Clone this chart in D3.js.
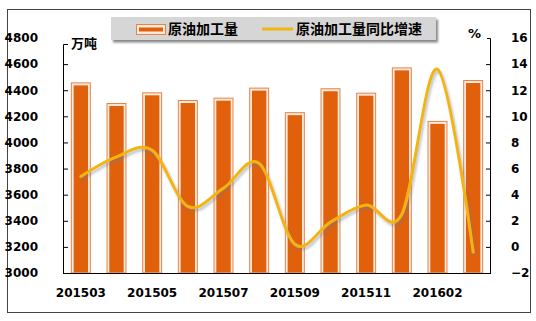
<!DOCTYPE html>
<html><head><meta charset="utf-8">
<script src="https://cdn.jsdelivr.net/npm/d3@7"></script>
<style>
html,body{margin:0;padding:0;background:#fff;}
svg{display:block;}
text{font-family:"DejaVu Sans",Verdana,sans-serif;font-weight:bold;fill:#000;}
.cjk{font-family:"Noto Sans CJK SC","Noto Sans",sans-serif;font-weight:bold;}
</style></head>
<body>
<script>
const categories = ["201503","201504","201505","201506","201507","201508","201509","201510","201511","201512","201602","201603"];
const xTickLabels = ["201503","201505","201507","201509","201511","201602"];
const output = [4460, 4302, 4384, 4325, 4343, 4420, 4232, 4415, 4381, 4575, 4165, 4478];
const growth = [5.4, 6.9, 7.4, 3.1, 4.5, 6.4, 0.2, 1.9, 3.2, 2.5, 13.6, -0.4];
const leftTicks = [3000,3200,3400,3600,3800,4000,4200,4400,4600,4800];
const rightTicks = [-2,0,2,4,6,8,10,12,14,16];
const seriesNames = ["原油加工量","原油加工量同比增速"];
const leftUnit = "万吨", rightUnit = "%";

const W = 536, H = 321;
const svg = d3.select("body").append("svg").attr("width", W).attr("height", H);
const defs = svg.append("defs");
const f = defs.append("filter").attr("id","lshadow").attr("x","-10%").attr("y","-10%").attr("width","130%").attr("height","140%");
f.append("feDropShadow").attr("dx",1.5).attr("dy",2.5).attr("stdDeviation",1.2).attr("flood-color","#6a7a90").attr("flood-opacity",0.45);
const f2 = defs.append("filter").attr("id","bshadow").attr("x","-5%").attr("y","-20%").attr("width","110%").attr("height","160%");
f2.append("feDropShadow").attr("dx",2).attr("dy",2.5).attr("stdDeviation",1).attr("flood-color","#555").attr("flood-opacity",0.7);

// outer frame
svg.append("rect").attr("x",7.5).attr("y",9.5).attr("width",523).attr("height",303)
  .attr("fill","#fff").attr("stroke","#444").attr("stroke-width",1);

const x0 = 63, x1 = 491, yB = 273, yT = 38;
const x = d3.scaleBand().domain(categories).range([x0, x1]).paddingInner(0.44).paddingOuter(0.22);
const yL = d3.scaleLinear().domain([3000, 4800]).range([yB, yT]);
const yR = d3.scaleLinear().domain([-2, 16]).range([yB, yT]);

// bars
const bars = svg.append("g");
categories.forEach((c, i) => {
  const bx = x(c), bw = x.bandwidth(), top = yL(output[i]);
  bars.append("rect").attr("x", bx+0.5).attr("y", top+0.5).attr("width", bw-1).attr("height", yB-top-0.5)
    .attr("fill","#FDEADB").attr("stroke","#E6834A").attr("stroke-width",1);
  bars.append("rect").attr("x", bx+2.8).attr("y", top+3).attr("width", bw-5.6).attr("height", yB-top-3.5)
    .attr("fill","#E0600C");
});

// line
const line = d3.line().x((d,i)=>x(categories[i])+x.bandwidth()/2).y(d=>yR(d)).curve(d3.curveCardinal.tension(0));
svg.append("path").datum(growth).attr("d", line).attr("fill","none")
  .attr("stroke","#F3B510").attr("stroke-width",3).attr("stroke-linecap","round").attr("filter","url(#lshadow)");

// left axis
const gL = svg.append("g").attr("transform",`translate(${x0},0)`);
gL.call(d3.axisLeft(yL).tickValues(leftTicks).tickSize(-5).tickPadding(25).tickFormat(d3.format("d")));
gL.select(".domain").remove();
gL.selectAll(".tick").filter(d=>d===4800||d===3000).select("line").remove();
gL.selectAll("text").attr("font-size",12).attr("font-family","DejaVu Sans").attr("font-weight","bold").attr("fill","#000");
gL.selectAll("line").attr("stroke","#000");
gL.append("path").attr("d",`M5,${yL(4800)+6.5}H0.5V${yB}`).attr("fill","none").attr("stroke","#000");

// right axis
const gR = svg.append("g").attr("transform",`translate(${x1},0)`);
gR.call(d3.axisRight(yR).tickValues(rightTicks).tickSize(-5).tickPadding(20).tickFormat(d3.format("d")));
gR.select(".domain").remove();
gR.selectAll(".tick").filter(d=>d===16||d===-2).select("line").remove();
gR.selectAll("text").attr("font-size",12).attr("font-family","DejaVu Sans").attr("font-weight","bold").attr("fill","#000");
gR.selectAll("line").attr("stroke","#000");
gR.append("path").attr("d",`M-4,${yR(16)+0.5}H-0.5V${yB}`).attr("fill","none").attr("stroke","#000");

// bottom axis
const gB = svg.append("g").attr("transform",`translate(0,${yB})`);
gB.call(d3.axisBottom(x).tickValues(xTickLabels).tickSize(0).tickPadding(15));
gB.select(".domain").attr("d",`M${x0},0.5H${x1}`).attr("stroke","#000").attr("stroke-width",1.2);
gB.selectAll("text").attr("font-size",12).attr("font-family","DejaVu Sans").attr("font-weight","bold").attr("fill","#000");

// unit labels
svg.append("text").attr("class","cjk").attr("x",71).attr("y",48).attr("font-size",13).text(leftUnit);
svg.append("text").attr("x",468).attr("y",38).attr("font-size",13).text(rightUnit);

// legend
const lg = svg.append("g");
lg.append("rect").attr("x",111).attr("y",17).attr("width",325).attr("height",23).attr("fill","#D6D6D6").attr("filter","url(#bshadow)");
lg.append("rect").attr("x",136.5).attr("y",24.5).attr("width",29).attr("height",10).attr("fill","#FDEADB").attr("stroke","#E6834A");
lg.append("rect").attr("x",139).attr("y",27.5).attr("width",24).attr("height",4).attr("fill","#E0600C");
lg.append("text").attr("class","cjk").attr("x",168).attr("y",34).attr("font-size",14).text(seriesNames[0]);
lg.append("line").attr("x1",262).attr("x2",293).attr("y1",29).attr("y2",29).attr("stroke","#F3B510").attr("stroke-width",3);
lg.append("text").attr("class","cjk").attr("x",296).attr("y",34).attr("font-size",14).text(seriesNames[1]);
</script>
</body></html>
